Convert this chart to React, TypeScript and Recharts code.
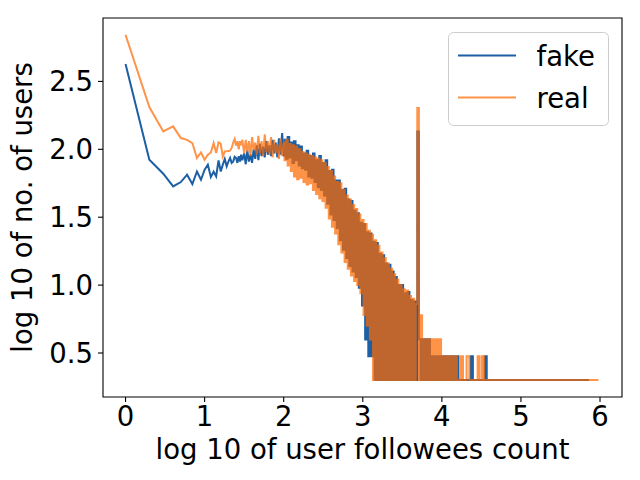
import React from 'react';
import { LineChart, Line, XAxis, YAxis, Legend, ReferenceArea } from 'recharts';

// log10 of followee count, k = 1..30
const lowLog = [0, 0.301, 0.477, 0.602, 0.699, 0.778, 0.845, 0.903, 0.954, 1.0, 1.041, 1.079, 1.114, 1.146, 1.176, 1.204, 1.23, 1.255, 1.279, 1.301, 1.322, 1.342, 1.362, 1.38, 1.398, 1.415, 1.431, 1.447, 1.462, 1.477];
const lowFake = [2.628, 1.923, 1.82, 1.727, 1.759, 1.813, 1.744, 1.837, 1.776, 1.85, 1.887, 1.796, 1.835, 1.8, 1.918, 1.837, 1.887, 1.929, 1.874, 1.91, 1.936, 1.9, 1.911, 1.945, 1.936, 1.9, 1.95, 1.91, 1.96, 1.92];
const lowReal = [2.844, 2.311, 2.132, 2.169, 2.083, 2.07, 2.046, 1.936, 1.977, 1.923, 1.96, 1.977, 2.046, 1.973, 2.051, 2.041, 1.948, 1.985, 1.986, 1.988, 1.99, 2.01, 2.05, 2.076, 2.027, 2.06, 2.0, 2.06, 2.03, 2.07];

// dense noisy region
const midLog = [
  1.50, 1.52, 1.54, 1.56, 1.58, 1.60, 1.62, 1.64, 1.66, 1.68,
  1.70, 1.72, 1.74, 1.76, 1.78, 1.80, 1.82, 1.84, 1.86, 1.88,
  1.90, 1.92, 1.94, 1.96, 1.98, 2.00, 2.02, 2.04, 2.06, 2.08,
  2.10, 2.12, 2.14, 2.16, 2.18, 2.20, 2.22, 2.24, 2.26, 2.28,
  2.30, 2.32, 2.34, 2.36, 2.38, 2.40, 2.42, 2.44, 2.46, 2.48,
  2.50, 2.52, 2.54, 2.56, 2.58, 2.60, 2.62, 2.64, 2.66, 2.68,
  2.70, 2.72, 2.74, 2.76, 2.78, 2.80, 2.82, 2.84, 2.86, 2.88,
  2.90, 2.92, 2.94, 2.96, 2.98, 3.00, 3.02, 3.04, 3.06, 3.08,
  3.10, 3.12, 3.14, 3.16, 3.18, 3.20, 3.22, 3.24, 3.26, 3.28,
  3.30, 3.32, 3.34, 3.36, 3.38, 3.40, 3.42, 3.44, 3.46, 3.48,
  3.50, 3.52, 3.54, 3.56, 3.58, 3.60, 3.62, 3.64, 3.66, 3.68,
];
const midFake = [
  1.97, 1.89, 1.99, 1.91, 1.96, 1.90, 2.00, 1.93, 2.03, 1.92,
  2.04, 1.95, 2.02, 1.94, 2.06, 1.96, 2.03, 1.95, 2.07, 1.97,
  2.05, 1.94, 2.08, 1.96, 2.12, 1.95, 2.07, 1.93, 2.09, 1.94,
  2.05, 1.90, 2.06, 1.92, 2.03, 1.88, 2.02, 1.86, 1.97, 1.85,
  1.99, 1.80, 1.95, 1.79, 1.97, 1.76, 1.92, 1.72, 1.95, 1.70,
  1.90, 1.66, 1.92, 1.60, 1.84, 1.52, 1.85, 1.48, 1.77, 1.42,
  1.77, 1.33, 1.70, 1.26, 1.71, 1.20, 1.63, 1.14, 1.62, 1.10,
  1.55, 1.06, 1.53, 0.98, 1.46, 0.85, 1.45, 0.60, 1.39, 0.477,
  1.38, 0.477, 1.32, 0.301, 1.31, 0.301, 1.23, 0.301, 1.22, 0.301,
  1.16, 0.301, 1.15, 0.301, 1.10, 0.301, 1.06, 0.301, 1.00, 0.301,
  1.00, 0.301, 0.94, 0.301, 0.95, 0.301, 0.89, 0.301, 0.88, 0.301,
];
const midReal = [
  1.97, 2.07, 1.98, 2.06, 1.95, 2.09, 1.99, 2.05, 1.96, 2.10,
  1.97, 2.06, 1.95, 2.11, 1.98, 2.06, 1.96, 2.09, 1.94, 2.07,
  1.97, 2.04, 1.93, 2.08, 1.95, 2.05, 1.92, 2.07, 1.88, 2.04,
  1.84, 2.03, 1.80, 2.02, 1.78, 2.00, 1.79, 1.98, 1.76, 1.97,
  1.74, 1.96, 1.75, 1.95, 1.70, 1.94, 1.67, 1.93, 1.64, 1.92,
  1.62, 1.90, 1.57, 1.87, 1.49, 1.84, 1.43, 1.80, 1.38, 1.76,
  1.30, 1.75, 1.24, 1.70, 1.17, 1.66, 1.12, 1.63, 1.07, 1.59,
  1.03, 1.56, 1.00, 1.52, 0.94, 1.48, 0.78, 1.45, 0.70, 1.40,
  0.60, 1.37, 0.301, 1.33, 0.301, 1.29, 0.301, 1.24, 0.301, 1.20,
  0.301, 1.16, 0.301, 1.12, 0.301, 1.08, 0.301, 1.04, 0.301, 1.00,
  0.301, 0.97, 0.301, 0.96, 0.301, 0.92, 0.301, 0.90, 0.301, 0.86,
];

// spike at 5000 followees
const capLog = [3.699];
const capFake = [2.132];
const capReal = [2.304];

// sparse high-count region
const highLog = [
  3.72, 3.74, 3.76, 3.78, 3.80, 3.82, 3.84, 3.86, 3.88, 3.90, 3.92, 3.94, 3.96, 3.98,
  4.00, 4.02, 4.04, 4.06, 4.08, 4.10, 4.12, 4.14, 4.16, 4.18, 4.20, 4.22,
  4.24, 4.245, 4.265, 4.27, 4.31, 4.315, 4.345, 4.35, 4.365, 4.37, 4.39, 4.395,
  4.45, 4.455, 4.475, 4.48, 4.505, 4.51, 4.53, 4.535, 4.54, 4.545, 4.565, 4.57,
  5.86, 5.98,
];
const highFake = [
  0.602, 0.301, 0.602, 0.301, 0.602, 0.301, 0.602, 0.301, 0.477, 0.301, 0.477, 0.301, 0.477, 0.301,
  0.477, 0.301, 0.477, 0.301, 0.477, 0.301, 0.477, 0.301, 0.477, 0.301, 0.477, 0.301,
  0.301, null, null, null, null, null, null, 0.301, 0.301, 0.477, 0.477, 0.301,
  null, null, null, null, null, null, null, 0.301, 0.301, 0.477, 0.477, 0.301,
  0.301, null,
];
const highReal = [
  0.301, 0.778, 0.301, 0.602, 0.301, 0.602, 0.301, 0.602, 0.301, 0.602, 0.301, 0.602, 0.301, 0.602,
  0.301, 0.477, 0.301, 0.477, 0.301, 0.477, 0.301, 0.477, 0.301, 0.477, 0.301, 0.301,
  0.301, 0.477, 0.477, 0.301, 0.301, 0.477, 0.477, 0.301, null, null, null, 0.301,
  0.301, 0.477, 0.477, 0.301, 0.301, 0.477, 0.477, 0.301, null, null, null, 0.301,
  0.301, 0.301,
];

const xTicks = [0, 1, 2, 3, 4, 5, 6];
const yTicks = [0.5, 1.0, 1.5, 2.0, 2.5];
const xDomain: [number, number] = [-0.285, 6.278];
const yDomain: [number, number] = [0.176, 2.967];

const seriesNames = ['fake', 'real'];
const seriesColors = ['#1c5fa5', '#ff6a00'];
const seriesOpacity = [1, 0.72];

const FONT = "'DejaVu Sans', sans-serif";
const FS = 27.5;

// index in midLog where the dense (drawn as stepped) part starts: x = 2.00
const SPLIT = 25;

const toRows = (xs: number[], ys: (number | null)[]) => xs.map((x, i) => ({ x, y: ys[i] }));

const fakeSparse = toRows([...lowLog, ...midLog.slice(0, SPLIT + 1)], [...lowFake, ...midFake.slice(0, SPLIT + 1)]);
const fakeDense = toRows([...midLog.slice(SPLIT), ...capLog, ...highLog], [...midFake.slice(SPLIT), ...capFake, ...highFake]);
const realSparse = toRows([...lowLog, ...midLog.slice(0, SPLIT + 1)], [...lowReal, ...midReal.slice(0, SPLIT + 1)]);
const realDense = toRows([...midLog.slice(SPLIT), ...capLog, ...highLog], [...midReal.slice(SPLIT), ...capReal, ...highReal]);

function LegendBox(props: any) {
  const payload = (props.payload || []).filter((e: any) => seriesNames.includes(e.value));
  return (
    <svg width={161} height={94} style={{ display: 'block' }}>
      <rect x={0.5} y={0.5} width={160} height={93} rx={5} ry={5} fill="#ffffff" fillOpacity={0.8} stroke="#cccccc" strokeWidth={1} />
      {payload.map((entry: any, i: number) => {
        const cy = 23.5 + i * 42;
        const idx = seriesNames.indexOf(entry.value);
        return (
          <g key={entry.value}>
            <line x1={10} x2={68} y1={cy} y2={cy} stroke={seriesColors[idx]} strokeOpacity={seriesOpacity[idx]} strokeWidth={2} />
            <text x={88.5} y={cy + 10} fontSize={FS} fontFamily={FONT} fill="#000">{entry.value}</text>
          </g>
        );
      })}
    </svg>
  );
}

export default function App() {
  return (
    <div style={{ position: 'absolute', left: 0, top: 0, width: 640, height: 480, background: '#fff' }}>
      <LineChart width={640} height={480} margin={{ top: 18, right: 18, bottom: 0, left: 0 }}>
        <XAxis
          dataKey="x"
          type="number"
          domain={xDomain}
          ticks={xTicks}
          allowDataOverflow
          interval={0}
          axisLine={false}
          tickLine={{ stroke: '#000', strokeWidth: 1.1 }}
          tickSize={5}
          tickMargin={4}
          height={83}
          tick={{ fill: '#000', fontSize: FS, fontFamily: FONT }}
          label={{ value: 'log 10 of user followees count', position: 'insideBottom', offset: 21, fill: '#000', fontSize: FS, fontFamily: FONT }}
        />
        <YAxis
          type="number"
          domain={yDomain}
          ticks={yTicks}
          allowDataOverflow
          interval={0}
          axisLine={false}
          tickLine={{ stroke: '#000', strokeWidth: 1.1 }}
          tickSize={5}
          tickMargin={5}
          width={103}
          tickFormatter={(v: number) => v.toFixed(1)}
          tick={{ fill: '#000', fontSize: FS, fontFamily: FONT }}
          label={{ value: 'log 10 of no. of users', angle: -90, position: 'insideLeft', offset: 22, fill: '#000', fontSize: FS, fontFamily: FONT, style: { textAnchor: 'middle' } }}
        />
        <ReferenceArea x1={xDomain[0]} x2={xDomain[1]} y1={yDomain[0]} y2={yDomain[1]} fill="none" fillOpacity={0} stroke="#000" strokeWidth={1.1} ifOverflow="visible" />
        <Line data={fakeSparse} type="linear" dataKey="y" name={seriesNames[0]} stroke={seriesColors[0]} strokeOpacity={seriesOpacity[0]} strokeWidth={2} dot={false} activeDot={false} connectNulls isAnimationActive={false} />
        <Line data={fakeDense} type="step" dataKey="y" name="fake-dense" legendType="none" stroke={seriesColors[0]} strokeOpacity={seriesOpacity[0]} strokeWidth={2} dot={false} activeDot={false} connectNulls isAnimationActive={false} />
        <Line data={realSparse} type="linear" dataKey="y" name={seriesNames[1]} stroke={seriesColors[1]} strokeOpacity={seriesOpacity[1]} strokeWidth={2} dot={false} activeDot={false} connectNulls isAnimationActive={false} />
        <Line data={realDense} type="step" dataKey="y" name="real-dense" legendType="none" stroke={seriesColors[1]} strokeOpacity={seriesOpacity[1]} strokeWidth={2} dot={false} activeDot={false} connectNulls isAnimationActive={false} />
        <Legend
          layout="vertical"
          align="center"
          verticalAlign="middle"
          content={LegendBox}
          wrapperStyle={{ left: 448, top: 32, width: 161, height: 94, right: 'auto', bottom: 'auto' }}
        />
      </LineChart>
    </div>
  );
}
